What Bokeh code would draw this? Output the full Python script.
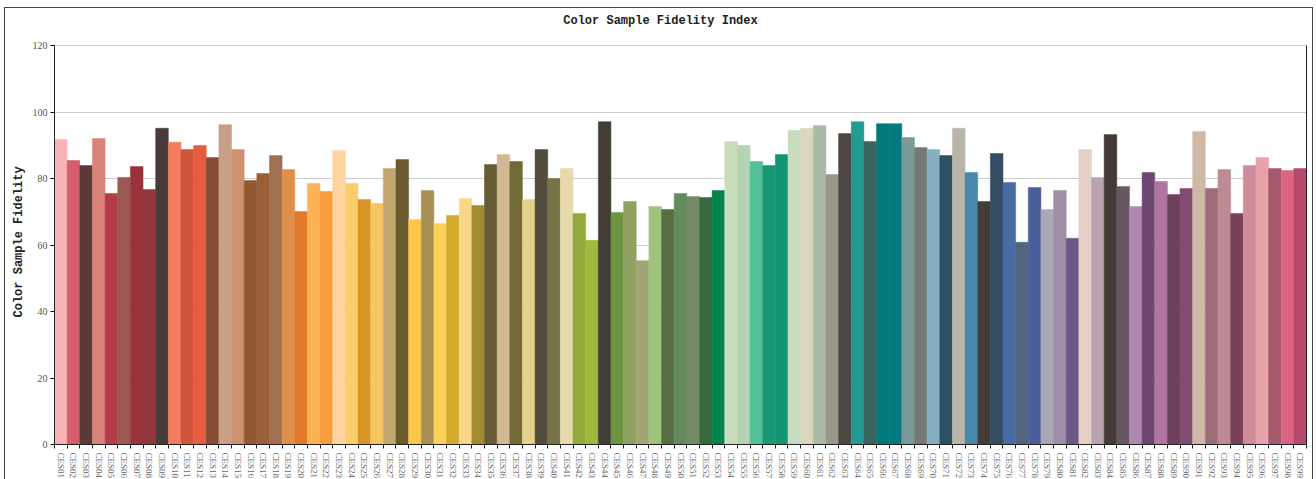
from bokeh.plotting import figure
from bokeh.models import Range1d, FixedTicker, LinearAxis, ColumnDataSource, Label, Title
from bokeh.embed import file_html
from bokeh.resources import INLINE

categories = ["CES%02d" % i for i in range(1, 100)]

values = [
    91.7, 85.4, 83.9, 92.0, 75.5, 80.3, 83.6, 76.7, 95.1, 90.9,
    88.7, 89.9, 86.3, 96.2, 88.7, 79.4, 81.5, 86.9, 82.7, 70.1,
    78.5, 76.1, 88.4, 78.5, 73.7, 72.5, 83.0, 85.7, 67.7, 76.4,
    66.5, 68.9, 74.0, 71.9, 84.2, 87.2, 85.1, 73.7, 88.7, 80.0,
    83.0, 69.5, 61.4, 97.1, 69.8, 73.1, 55.3, 71.6, 70.7, 75.5,
    74.6, 74.3, 76.4, 91.1, 89.9, 85.1, 83.9, 87.2, 94.5, 95.1,
    95.9, 81.2, 93.5, 97.1, 91.1, 96.5, 96.5, 92.3, 89.3, 88.7,
    86.9, 95.1, 81.8, 73.1, 87.5, 78.8, 60.8, 77.3, 70.7, 76.4,
    62.0, 88.7, 80.3, 93.2, 77.6, 71.6, 81.8, 79.1, 75.2, 77.0,
    94.1, 77.0, 82.7, 69.5, 83.9, 86.3, 83.0, 82.4, 83.0,
]

colors = [
    "#f8b4b4", "#d45d6f", "#5c3a3a", "#d9827a", "#b33c48", "#9a5a52", "#99323b", "#93363b", "#463b38", "#f17c5e",
    "#cf563a", "#e65c3e", "#874a33", "#c8a088", "#cd9270", "#935933", "#9a5e39", "#a07050", "#e08f4b", "#e07a2a",
    "#fbb356", "#f89c3c", "#fed59e", "#fbcd6c", "#d99526", "#f5c65e", "#c2a76f", "#695b2f", "#fdc84a", "#a89054",
    "#fdd258", "#d3aa2b", "#f8d888", "#a38b32", "#665b32", "#d2b894", "#726b35", "#e4d08a", "#524d3a", "#777247",
    "#e6d9ac", "#93ab3c", "#9fba3c", "#433e35", "#6f943f", "#8fa262", "#a1a574", "#9dc47a", "#556f42", "#658a5e",
    "#758b65", "#376840", "#03844e", "#c8ddbc", "#b4d3b4", "#53c098", "#1a9874", "#139574", "#c8dcc2", "#ddd6bf",
    "#a9baa4", "#9a978a", "#4d4641", "#229b95", "#3c645e", "#04777b", "#047980", "#799a98", "#747875", "#86aec0",
    "#2c5060", "#b9b4a8", "#4788ae", "#423d37", "#364c63", "#476ca3", "#53657c", "#4a5e9a", "#aaa8b6", "#9f8ea8",
    "#6d5787", "#e5d0c8", "#bba3b2", "#443b39", "#685763", "#ae88b0", "#6d4672", "#b075a0", "#6d405e", "#824b72",
    "#cfb8a5", "#9e6d78", "#bb8a92", "#7a4058", "#cd8c98", "#e7a2aa", "#a6586c", "#d96582", "#b7496a",
]

y_ticks = [0, 20, 40, 60, 80, 100, 120]
y_max = 120
title_text = "Color Sample Fidelity Index"
y_label_text = "Color Sample Fidelity"

n = len(categories)
xpos = [i + 0.5 for i in range(n)]
src = ColumnDataSource(dict(x=xpos, top=values, color=colors, name=categories))

# frame extends above the value axis to host the title; axes are bounded to 0..120
px_per_unit = 399 / y_max
frame_h = 432
p = figure(
    frame_width=1252, frame_height=frame_h,
    x_range=Range1d(0, n), y_range=Range1d(0, frame_h / px_per_unit),
    output_backend="svg", toolbar_location=None,
    min_border_left=48, min_border_right=6, min_border_top=4, min_border_bottom=34,
)
p.styles = {"border": "1px solid #444", "margin-left": "4px", "margin-top": "7px"}
p.outline_line_color = None

title_lbl = Label(x=n * 0.484, y=y_max + 7.5, text=title_text, text_align="center", text_baseline="middle",
                  text_font="Liberation Mono", text_font_style="bold", text_font_size="12px",
                  text_color="#222")
p.add_layout(title_lbl)

p.vbar(x="x", top="top", width=1.0, bottom=0, fill_color="color", line_color="color", line_width=0.5, source=src)

# x axis
xa = p.xaxis[0]
xa.ticker = FixedTicker(ticks=xpos, minor_ticks=list(range(n + 1)))
xa.major_label_overrides = {x: c for x, c in zip(xpos, categories)}
xa.major_tick_line_color = None
xa.minor_tick_out = 4
xa.minor_tick_in = 0
xa.minor_tick_line_color = "#222"
xa.major_label_orientation = "vertical"
xa.major_label_text_font = "Liberation Serif"
xa.major_label_text_font_size = "9px"
xa.major_label_text_color = "#666"
xa.major_label_standoff = 2
xa.axis_line_color = "#222"

# y axis
ya = p.yaxis[0]
ya.bounds = (0, y_max)
ya.ticker = FixedTicker(ticks=y_ticks)
ya.major_tick_out = 4
ya.major_tick_in = 0
ya.minor_tick_line_color = None
ya.major_label_text_font = "Liberation Serif"
ya.major_label_text_font_size = "10px"
ya.major_label_text_color = "#555"
ya.major_label_standoff = 3
ya.axis_line_color = "#222"

# y axis title, centred on the 0..120 span
y_title = Title(text=y_label_text, align="left", offset=127, standoff=8,
                text_font="Liberation Mono", text_font_style="bold", text_font_size="12px",
                text_color="#222")
p.add_layout(y_title, "left")

ra = LinearAxis(ticker=FixedTicker(ticks=[]), bounds=(0, y_max), major_tick_line_color=None,
                minor_tick_line_color=None, major_label_text_font_size="0px", axis_line_color="#222")
p.add_layout(ra, "right")

p.xgrid.grid_line_color = None
p.ygrid.ticker = FixedTicker(ticks=y_ticks)
p.ygrid.grid_line_color = "#cccccc"
p.ygrid.grid_line_width = 1

open("out.html", "w").write(file_html(p, INLINE))
